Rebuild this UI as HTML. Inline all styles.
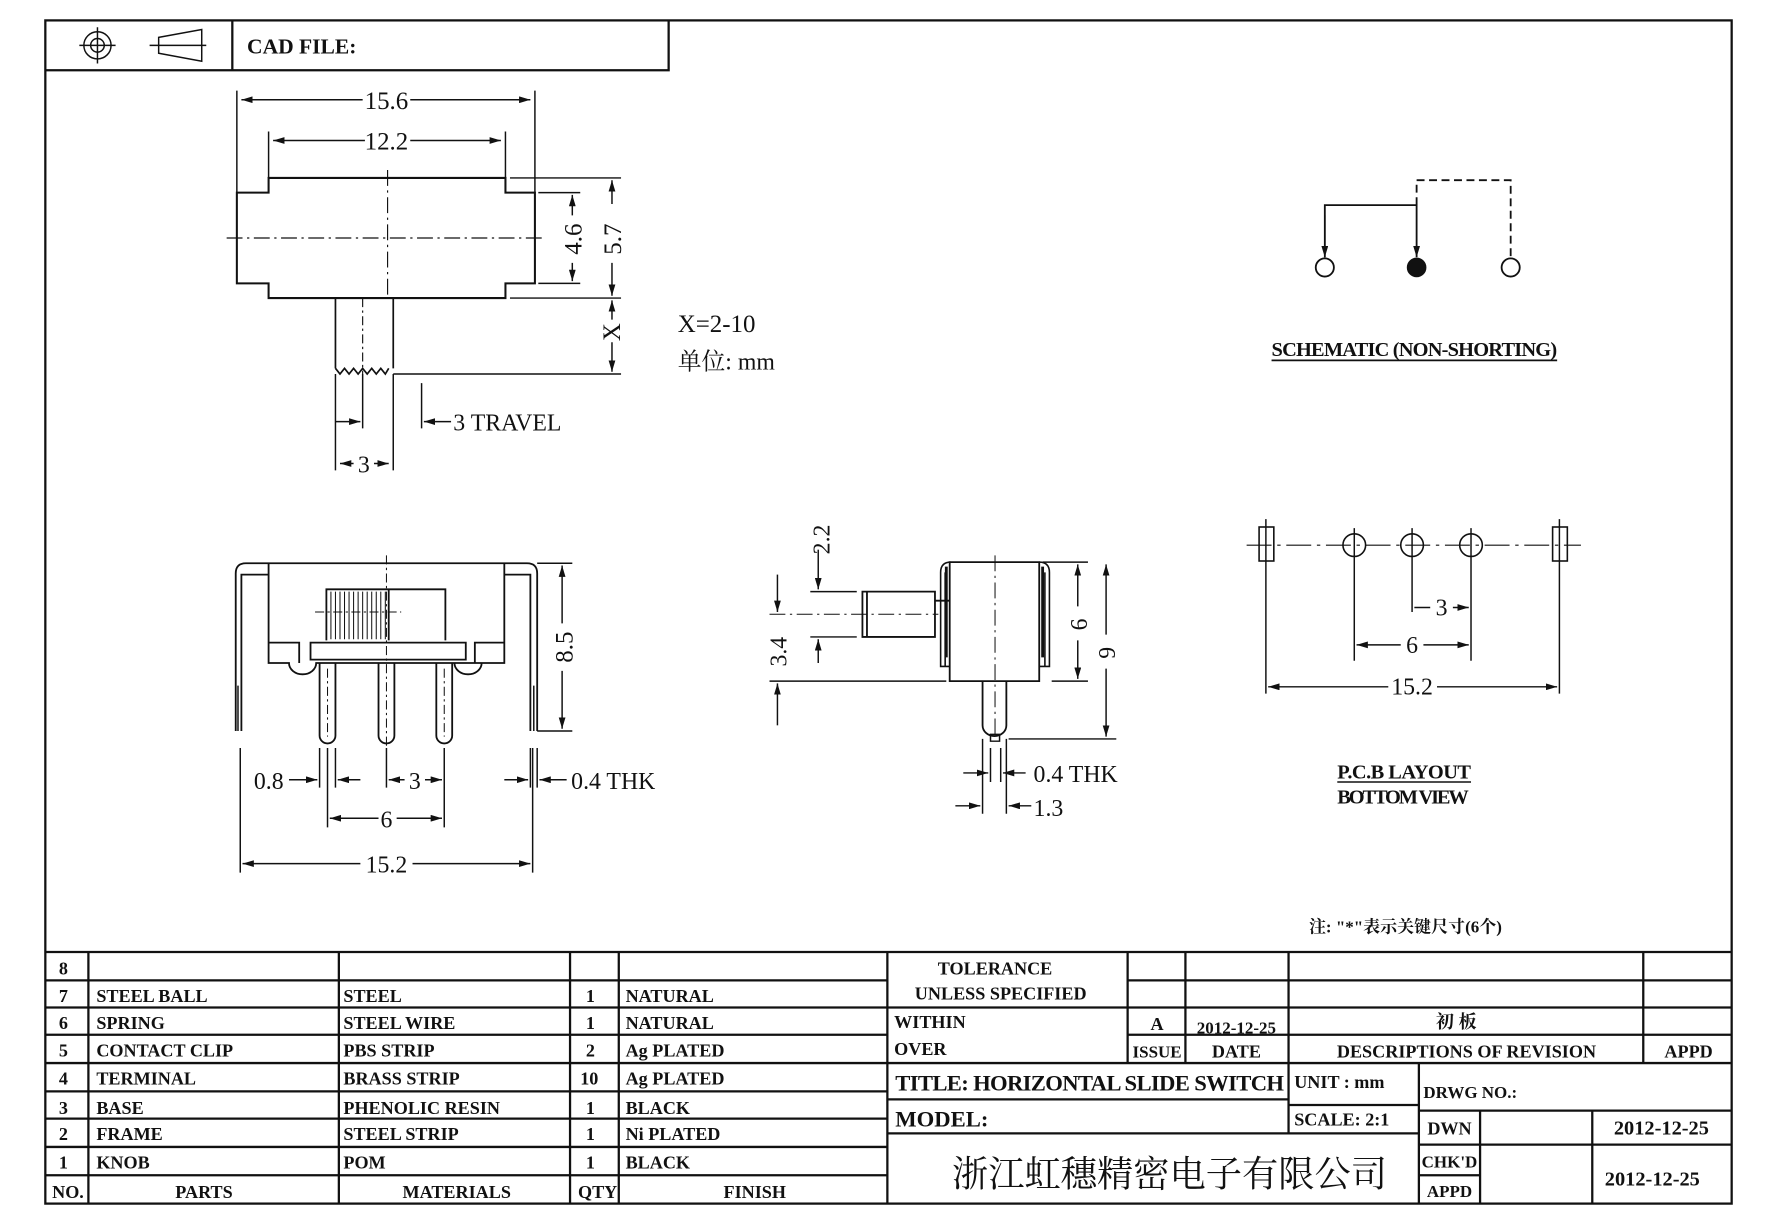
<!DOCTYPE html>
<html><head><meta charset="utf-8"><style>
html,body{margin:0;padding:0;background:#fff}
svg{display:block}
text{font-family:"Liberation Serif","Noto Serif CJK SC",serif;font-weight:bold;fill:#111}
.d{font-family:"Liberation Serif","Noto Serif CJK SC",serif;font-weight:normal}
</style></head><body>
<svg width="1777" height="1224" viewBox="0 0 1568 1080" preserveAspectRatio="none" xmlns="http://www.w3.org/2000/svg">
<defs>
<marker id="a" viewBox="0 0 10 6" refX="10" refY="3" markerWidth="10" markerHeight="6" markerUnits="userSpaceOnUse" orient="auto-start-reverse"><path d="M0,0 L10,3 L0,6 Z" fill="#111"/></marker>
</defs>
<g stroke="#111" fill="none" stroke-width="1.3">
<rect x="40" y="18" width="1488" height="1044" stroke-width="2"/>
<path d="M40,62 H590 V18 M205,18 V62" stroke-width="2"/>
<circle cx="86" cy="40" r="12"/><circle cx="86" cy="40" r="6"/><path d="M70,40 H102 M86,24 V56"/>
<path d="M140,33 L178,26 V54 L140,47 Z M132,40 H182"/>

<path d="M237,157 H446 V170 H472 V250 H446 V263 H237 V250 H209 V170 H237 Z" stroke-width="1.8"/>
<path d="M200,210 H482 M342,150 V263" stroke-dasharray="14,4,2,4" stroke-width="1"/>
<path d="M296,263 H347 V325 M296,263 V325 M296,325 l4,5 4,-5 4,5 4,-5 4,5 4,-5 4,5 4,-5 4,5 4,-5 4,5 3,-5" stroke-width="1.5"/>
<path d="M320,263 V330" stroke-dasharray="8,3,2,3" stroke-width="1"/>
<path d="M209,80 V170 M472,80 V170 M237,116 V157 M446,116 V157"/>
<path d="M213,88 H320 M362,88 H468" marker-start="url(#a)" marker-end="url(#a)"/>
<path d="M241,124 H322 M362,124 H442" marker-start="url(#a)" marker-end="url(#a)"/>
<path d="M475,170 H512 M450,157 H548 M475,250 H512 M450,263 H548 M347,330 H548"/>
<path d="M505,172 V190 M505,232 V248" marker-start="url(#a)" marker-end="url(#a)"/>
<path d="M540,159 V180 M540,232 V261" marker-start="url(#a)" marker-end="url(#a)"/>
<path d="M540,265 V282 M540,302 V328" marker-start="url(#a)" marker-end="url(#a)"/>
<path d="M296,330 V415 M347,330 V415 M320,330 V378 M372,338 V378"/>
<path d="M300,409 H312 M330,409 H343" marker-start="url(#a)" marker-end="url(#a)"/>
<path d="M296,372 H318" marker-end="url(#a)"/>
<path d="M398,372 H374" marker-end="url(#a)"/>

<path d="M208,645 V506 Q208,497 217,497 H465 Q474,497 474,506 V645 M213,645 V507 H237 M468,645 V507 H445" stroke-width="1.6"/>
<path d="M237,497 V585 H255 A12,10 0 0 0 279,585 H445 M445,497 V585 H425 A12,10 0 0 1 401,585" stroke-width="1.6"/>
<path d="M237,567 H264 V585 M445,567 H419 V585 M274,567 H411 V582 H274 Z" stroke-width="1.6"/>
<path d="M288,565 V520 H393 V565 M288,520 H343 V565" stroke-width="1.6"/>
<path d="M292,522 V564 M296,522 V564 M300,522 V564 M304,522 V564 M308,522 V564 M312,522 V564 M316,522 V564 M320,522 V564 M324,522 V564 M328,522 V564 M332,522 V564 M336,522 V564 M340,522 V564" stroke-width="0.9"/>
<path d="M282,585 V649 A7,7 0 0 0 296,649 V585 M334,585 V649 A7,7 0 0 0 348,649 V585 M385,585 V649 A7,7 0 0 0 399,649 V585" stroke-width="1.6"/>
<path d="M341,490 V660 M289,590 V650 M392,590 V650 M278,540 H354" stroke-dasharray="8,3,2,3" stroke-width="0.9"/>
<path d="M210,605 V645 M471,605 V645"/>
<path d="M474,497 H505 M474,645 H505"/>
<path d="M496,499 V550 M496,592 V643" marker-start="url(#a)" marker-end="url(#a)"/>
<path d="M212,660 V770 M470,660 V770 M289,660 V730 M392,660 V730 M282,660 V695 M296,660 V695 M341,660 V695 M468,660 V695 M474,660 V695"/>
<path d="M255,688 H280" marker-end="url(#a)"/><path d="M318,688 H298" marker-end="url(#a)"/>
<path d="M357,688 H343" marker-end="url(#a)"/><path d="M375,688 H390" marker-end="url(#a)"/>
<path d="M445,688 H466" marker-end="url(#a)"/><path d="M500,688 H476" marker-end="url(#a)"/>
<path d="M291,722 H334 M350,722 H390" marker-start="url(#a)" marker-end="url(#a)"/>
<path d="M214,762 H318 M364,762 H468" marker-start="url(#a)" marker-end="url(#a)"/>

<path d="M838,601 V496 H917 V601 Z" stroke-width="1.6"/>
<path d="M838,588 H830 V505 Q830,496 839,496 M917,588 H926 V505 Q926,496 917,496 M834,588 V505 M922,588 V505" stroke-width="1.4"/>
<path d="M835,500 V580 M920,500 V580" stroke-width="2.5"/>
<path d="M761,522 H825 V562 H761 Z M765,522 V562 M825,530 H838" stroke-width="1.6"/>
<path d="M867,601 V640 A10,9 0 0 0 888,640 V601" stroke-width="1.6"/>
<path d="M874,648 H882 V654 H874 Z"/>
<path d="M878,490 V650 M679,542 H828" stroke-dasharray="14,4,2,4" stroke-width="0.9"/>
<path d="M715,522 H756 M715,562 H756 M679,601 H835 M920,496 H960 M928,601 H960 M890,652 H985"/>
<path d="M722,485 V520" marker-end="url(#a)"/><path d="M722,585 V564" marker-end="url(#a)"/>
<path d="M686,507 V540" marker-end="url(#a)"/><path d="M686,640 V603" marker-end="url(#a)"/>
<path d="M951,498 V535 M951,565 V599" marker-start="url(#a)" marker-end="url(#a)"/>
<path d="M976,498 V560 M976,590 V650" marker-start="url(#a)" marker-end="url(#a)"/>
<path d="M867,652 V718 M888,652 V718 M874,660 V690 M883,660 V690"/>
<path d="M850,682 H872" marker-end="url(#a)"/><path d="M905,682 H885" marker-end="url(#a)"/>
<path d="M843,711 H865" marker-end="url(#a)"/><path d="M910,711 H890" marker-end="url(#a)"/>

<path d="M1169,227 V181 H1250 V227" stroke-width="1.6" marker-end="url(#a)"/>
<path d="M1169,190 V227" marker-end="url(#a)"/>
<path d="M1250,181 V159 H1333 V227" stroke-dasharray="7,4" stroke-width="1.6"/>
<circle cx="1169" cy="236" r="8" stroke-width="1.6"/>
<circle cx="1250" cy="236" r="8" fill="#111"/>
<circle cx="1333" cy="236" r="8" stroke-width="1.6"/>
<path d="M1122,318 H1374" stroke-width="1.5"/>

<rect x="1111" y="465" width="13" height="30" stroke-width="1.4"/>
<rect x="1370" y="465" width="13" height="30" stroke-width="1.4"/>
<circle cx="1195" cy="481" r="10" stroke-width="1.4"/><circle cx="1246" cy="481" r="10" stroke-width="1.4"/><circle cx="1298" cy="481" r="10" stroke-width="1.4"/>
<path d="M1100,481 H1395" stroke-dasharray="22,5,3,5" stroke-width="1"/>
<path d="M1117,458 V612 M1376,458 V612 M1195,466 V583 M1246,466 V540 M1298,466 V583"/>
<path d="M1248,536 H1262 M1282,536 H1296" marker-end="url(#a)" />
<path d="M1197,569 H1236 M1256,569 H1296" marker-start="url(#a)" marker-end="url(#a)"/>
<path d="M1119,606 H1225 M1268,606 H1374" marker-start="url(#a)" marker-end="url(#a)"/>
<path d="M1180,690 H1298" stroke-width="1.4"/>

<g stroke-width="2">
<path d="M40,840 H1528"/>
<path d="M40,865 H783 M40,889 H783 M40,913 H783 M40,938 H783 M40,963 H783 M40,987 H783 M40,1012 H783 M40,1037 H783"/>
<path d="M995,865 H1528 M783,889 H1528 M995,913 H1528 M783,938 H1528 M783,970 H1137 M783,1000 H1252 M1137,975 H1252 M1252,980 H1528 M1252,1010 H1528 M1252,1037 H1306"/>
<path d="M78,840 V1062 M299,840 V1062 M503,840 V1062 M546,840 V1062 M783,840 V1062"/>
<path d="M995,840 V938 M1046,840 V938 M1137,840 V1000 M1450,840 V938 M1252,938 V1062 M1306,980 V1062 M1405,980 V1062"/>
</g>
</g>

<text x="218" y="47" font-size="19">CAD  FILE:</text>
<g class="d" font-size="22">
<text class="d" x="341" y="96" text-anchor="middle" font-size="22">15.6</text>
<text class="d" x="341" y="132" text-anchor="middle" font-size="22">12.2</text>
<text class="d" transform="translate(513,211) rotate(-90)" text-anchor="middle" font-size="22">4.6</text>
<text class="d" transform="translate(548,211) rotate(-90)" text-anchor="middle" font-size="22">5.7</text>
<text class="d" transform="translate(547,293) rotate(-90)" text-anchor="middle" font-size="22">X</text>
<text class="d" x="598" y="293" font-size="22">X=2-10</text>
<text class="d" x="598" y="326" font-size="21">单位: mm</text>
<text class="d" x="400" y="380" font-size="21">3 TRAVEL</text>
<text class="d" x="321" y="417" text-anchor="middle" font-size="21">3</text>
<text class="d" transform="translate(505,571) rotate(-90)" text-anchor="middle" font-size="22">8.5</text>
<text class="d" x="224" y="696" font-size="21">0.8</text>
<text class="d" x="366" y="696" text-anchor="middle" font-size="21">3</text>
<text class="d" x="504" y="696" font-size="21">0.4  THK</text>
<text class="d" x="341" y="730" text-anchor="middle" font-size="21">6</text>
<text class="d" x="341" y="770" text-anchor="middle" font-size="21">15.2</text>
<text class="d" transform="translate(732,476) rotate(-90)" text-anchor="middle" font-size="21">2.2</text>
<text class="d" transform="translate(694,575) rotate(-90)" text-anchor="middle" font-size="21">3.4</text>
<text class="d" transform="translate(959,551) rotate(-90)" text-anchor="middle" font-size="21">6</text>
<text class="d" transform="translate(984,576) rotate(-90)" text-anchor="middle" font-size="21">9</text>
<text class="d" x="912" y="690" font-size="21">0.4  THK</text>
<text class="d" x="912" y="720" font-size="21">1.3</text>
<text class="d" x="1272" y="543" text-anchor="middle" font-size="21">3</text>
<text class="d" x="1246" y="576" text-anchor="middle" font-size="21">6</text>
<text class="d" x="1246" y="613" text-anchor="middle" font-size="21">15.2</text>
</g>
<text x="1122" y="314" font-size="18" textLength="252">SCHEMATIC  (NON-SHORTING)</text>
<text x="1180" y="687" font-size="18" textLength="118">P.C.B LAYOUT</text>
<text x="1180" y="709" font-size="18" textLength="116">BOTTOM VIEW</text>
<text x="1155" y="823" font-size="15">注: "*"表示关键尺寸(6个)</text>

<g font-size="16">
<text x="52" y="860">8</text>
<text x="52" y="884">7</text><text x="85" y="884">STEEL  BALL</text><text x="303" y="884">STEEL</text><text x="517" y="884">1</text><text x="552" y="884">NATURAL</text>
<text x="52" y="908">6</text><text x="85" y="908">SPRING</text><text x="303" y="908">STEEL  WIRE</text><text x="517" y="908">1</text><text x="552" y="908">NATURAL</text>
<text x="52" y="932">5</text><text x="85" y="932">CONTACT  CLIP</text><text x="303" y="932">PBS  STRIP</text><text x="517" y="932">2</text><text x="552" y="932">Ag  PLATED</text>
<text x="52" y="957">4</text><text x="85" y="957">TERMINAL</text><text x="303" y="957">BRASS  STRIP</text><text x="512" y="957">10</text><text x="552" y="957">Ag  PLATED</text>
<text x="52" y="983">3</text><text x="85" y="983">BASE</text><text x="303" y="983">PHENOLIC  RESIN</text><text x="517" y="983">1</text><text x="552" y="983">BLACK</text>
<text x="52" y="1006">2</text><text x="85" y="1006">FRAME</text><text x="303" y="1006">STEEL  STRIP</text><text x="517" y="1006">1</text><text x="552" y="1006">Ni  PLATED</text>
<text x="52" y="1031">1</text><text x="85" y="1031">KNOB</text><text x="303" y="1031">POM</text><text x="517" y="1031">1</text><text x="552" y="1031">BLACK</text>
<text x="46" y="1057">NO.</text><text x="180" y="1057" text-anchor="middle">PARTS</text><text x="403" y="1057" text-anchor="middle">MATERIALS</text><text x="510" y="1057">QTY</text><text x="666" y="1057" text-anchor="middle">FINISH</text>
<text x="878" y="860" text-anchor="middle">TOLERANCE</text>
<text x="883" y="882" text-anchor="middle">UNLESS    SPECIFIED</text>
<text x="789" y="907">WITHIN</text><text x="789" y="931">OVER</text>
<text x="1021" y="909" text-anchor="middle">A</text><text x="1091" y="912" text-anchor="middle" font-size="15">2012-12-25</text>
<text x="1285" y="907" text-anchor="middle">初 板</text>
<text x="1021" y="933" text-anchor="middle" font-size="15">ISSUE</text><text x="1091" y="933" text-anchor="middle">DATE</text>
<text x="1294" y="933" text-anchor="middle">DESCRIPTIONS  OF  REVISION</text><text x="1490" y="933" text-anchor="middle">APPD</text>
<text x="790" y="962" font-size="20" textLength="343">TITLE:  HORIZONTAL  SLIDE  SWITCH</text>
<text x="1142" y="960">UNIT : mm</text>
<text x="790" y="994" font-size="20">MODEL:</text>
<text x="1142" y="993">SCALE:  2:1</text>
<text x="1256" y="969" font-size="15">DRWG  NO.:</text>
<text x="1279" y="1001" text-anchor="middle">DWN</text><text x="1466" y="1001" text-anchor="middle" font-size="18">2012-12-25</text>
<text x="1279" y="1030" text-anchor="middle" font-size="15">CHK'D</text>
<text x="1279" y="1056" text-anchor="middle" font-size="15">APPD</text>
<text x="1458" y="1046" text-anchor="middle" font-size="18">2012-12-25</text>
</g>
<text x="1032" y="1047" text-anchor="middle" font-size="32" style="font-family:'Noto Serif CJK SC','Noto Sans CJK SC',serif;font-weight:normal">浙江虹穗精密电子有限公司</text>
</svg>
</body></html>
